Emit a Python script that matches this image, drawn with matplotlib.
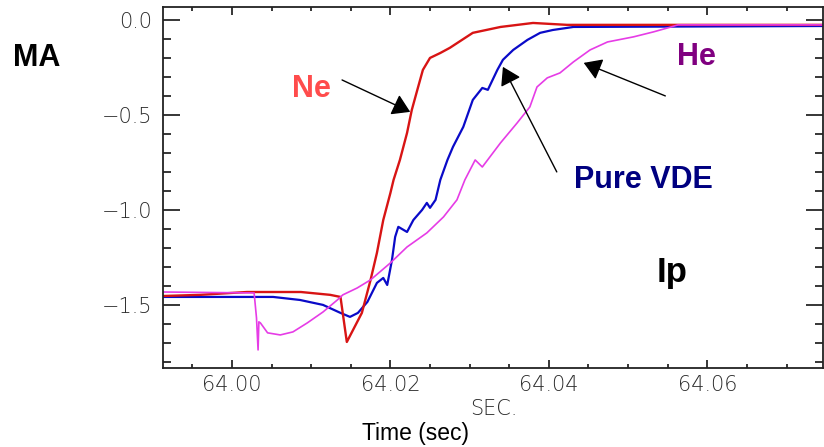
import matplotlib
matplotlib.use("Agg")
import matplotlib.pyplot as plt
from matplotlib.ticker import MultipleLocator, FuncFormatter

# plasma current traces (MA) vs time (s)
ne_t = [63.9913, 63.9960, 64.0019, 64.0087, 64.0124, 64.0137, 64.0145, 64.0164,
        64.0175, 64.0183, 64.0191, 64.0200, 64.0204, 64.0212, 64.0221, 64.0227,
        64.0234, 64.0241, 64.0250, 64.0263, 64.0275, 64.0304, 64.0339, 64.0380,
        64.0423, 64.0746]
ne_ip = [-1.453, -1.447, -1.432, -1.432, -1.447, -1.458, -1.695, -1.542,
         -1.368, -1.226, -1.053, -0.911, -0.842, -0.737, -0.595, -0.474,
         -0.368, -0.263, -0.200, -0.174, -0.147, -0.068, -0.037, -0.016,
         -0.026, -0.026]

vde_t = [63.9913, 64.0052, 64.0086, 64.0115, 64.0137, 64.0149, 64.0159, 64.0171,
         64.0183, 64.0191, 64.0196, 64.0202, 64.0206, 64.0210, 64.0221, 64.0229,
         64.0240, 64.0246, 64.0250, 64.0257, 64.0263, 64.0272, 64.0279, 64.0292,
         64.0304, 64.0316, 64.0323, 64.0335, 64.0342, 64.0355, 64.0373, 64.0389,
         64.0405, 64.0423, 64.0431, 64.0746]
vde_ip = [-1.458, -1.458, -1.474, -1.500, -1.542, -1.563, -1.542, -1.484,
          -1.384, -1.358, -1.395, -1.263, -1.142, -1.089, -1.116, -1.053,
          -1.000, -0.963, -0.989, -0.947, -0.842, -0.737, -0.668, -0.563,
          -0.421, -0.358, -0.368, -0.263, -0.210, -0.158, -0.105, -0.068,
          -0.053, -0.042, -0.037, -0.032]

he_t = [63.9913, 64.0028, 64.0031, 64.0033, 64.0034, 64.0036, 64.0045, 64.0061,
        64.0077, 64.0095, 64.0115, 64.0133, 64.0140, 64.0158, 64.0175, 64.0200,
        64.0221, 64.0246, 64.0267, 64.0284, 64.0294, 64.0307, 64.0316, 64.0339,
        64.0360, 64.0376, 64.0385, 64.0398, 64.0414, 64.0431, 64.0452, 64.0474,
        64.0507, 64.0532, 64.0550, 64.0563, 64.0746]
he_ip = [-1.432, -1.437, -1.568, -1.737, -1.589, -1.595, -1.647, -1.658,
         -1.642, -1.595, -1.537, -1.474, -1.447, -1.411, -1.368, -1.279,
         -1.195, -1.121, -1.037, -0.947, -0.842, -0.737, -0.774, -0.647,
         -0.542, -0.458, -0.353, -0.305, -0.279, -0.221, -0.158, -0.116,
         -0.089, -0.063, -0.042, -0.026, -0.026]

W, H = 824, 447
fig = plt.figure(figsize=(W / 100, H / 100), dpi=100)
ax = fig.add_axes([163 / W, 1 - 368 / H, (823 - 163) / W, (368 - 7) / H])

ax.plot(vde_t, vde_ip, color="#0a0ac8", lw=1.6)
ax.plot(ne_t, ne_ip, color="#d81414", lw=1.7)
ax.plot(he_t, he_ip, color="#e63ce6", lw=1.2)

ax.set_xlim(63.9913, 64.0746)
ax.set_ylim(-1.832, 0.068)

ax.xaxis.set_major_locator(MultipleLocator(0.02))
ax.xaxis.set_minor_locator(MultipleLocator(0.005))
ax.yaxis.set_major_locator(MultipleLocator(0.5))
ax.yaxis.set_minor_locator(MultipleLocator(0.1))
ax.xaxis.set_major_formatter(FuncFormatter(lambda v, p: "%.2f" % v))
ax.yaxis.set_major_formatter(FuncFormatter(lambda v, p: ("%.1f" % v).replace("-", "\u2212") if abs(v) > 1e-9 else "0.0"))

lblcol = "#2a2a2a"
ax.tick_params(axis="x", which="both", direction="in", top=True, labelsize=15,
               labelcolor=lblcol, pad=5, width=1.1)
ax.tick_params(axis="x", which="major", length=6)
ax.tick_params(axis="x", which="minor", length=3)
ax.tick_params(axis="y", which="both", direction="in", right=True, labelsize=15,
               labelcolor=lblcol, pad=8, width=1.1)
ax.tick_params(axis="y", which="major", length=12)
ax.tick_params(axis="y", which="minor", length=6)
for lab in ax.get_xticklabels() + ax.get_yticklabels():
    lab.set_fontweight("light")
for s in ax.spines.values():
    s.set_linewidth(1.3)
    s.set_color("#222222")

bold = dict(family="Liberation Sans", fontweight="bold")
fig.text(37 / W, 1 - 66 / H, "MA", ha="center", va="baseline", fontsize=22, color="black", **bold)
fig.text(311 / W, 1 - 97 / H, "Ne", ha="center", va="baseline", fontsize=22, color="#ff4c4c", **bold)
fig.text(696 / W, 1 - 65 / H, "He", ha="center", va="baseline", fontsize=22, color="#800080", **bold)
fig.text(643 / W, 1 - 188 / H, "Pure VDE", ha="center", va="baseline", fontsize=22, color="#000080", **bold)
fig.text(672 / W, 1 - 282 / H, "Ip", ha="center", va="baseline", fontsize=25, color="black", **bold)

fig.text(494 / W, 1 - 415 / H, "SEC.", ha="center", va="baseline", fontsize=15,
         color=lblcol, family="DejaVu Sans", fontweight="light")
fig.text(415 / W, 1 - 440 / H, "Time (sec)", ha="center", va="baseline", fontsize=16.5,
         color="black", family="Liberation Sans")

arrow = dict(arrowstyle="-|>,head_length=0.4,head_width=0.25", mutation_scale=27,
             lw=1.0, color="black", shrinkA=0, shrinkB=0)
ax.annotate("", xy=(64.0225, -0.484), xytext=(64.0139, -0.316), arrowprops=arrow)
ax.annotate("", xy=(64.0342, -0.247), xytext=(64.0410, -0.800), arrowprops=arrow)
ax.annotate("", xy=(64.0444, -0.226), xytext=(64.0547, -0.400), arrowprops=arrow)

fig.savefig("out.png", dpi=100)
